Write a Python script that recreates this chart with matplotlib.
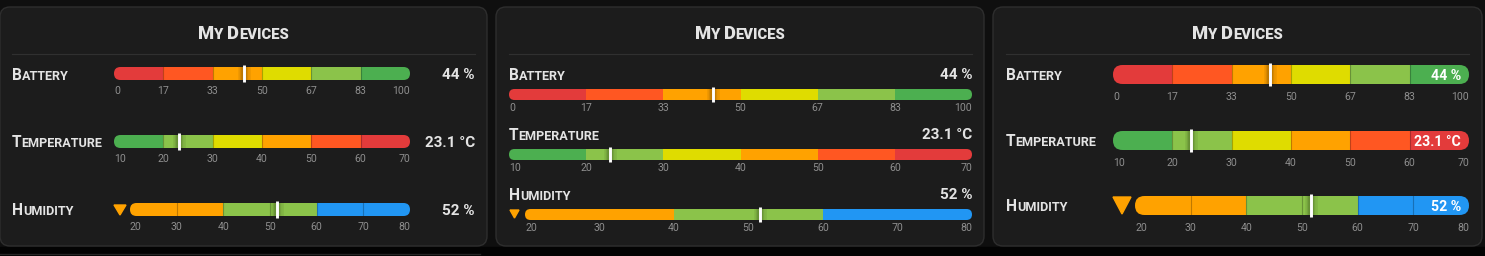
import numpy as np
import matplotlib
matplotlib.use('Agg')
import matplotlib.pyplot as plt
from matplotlib.patches import FancyBboxPatch, Rectangle, Polygon

# data
row_names = ['Battery', 'Temperature', 'Humidity']
row_values = [44, 23.1, 51.6]
row_decimals = [0, 1, 0]
row_units = ['%', '°C', '%']

battery_edges = [0, 16.67, 33.33, 50, 66.67, 83.33, 100]
temperature_edges = [10, 20, 30, 40, 50, 60, 70]
humidity_edges = [20, 30, 40, 50, 60, 70, 80]

RED, ORANGERED, ORANGE = '#e33b3b', '#ff5722', '#ffa200'
YELLOW, LIGHTGREEN, GREEN, BLUE = '#dfdc00', '#8bc34a', '#4caf50', '#2196f3'
battery_colors = [RED, ORANGERED, ORANGE, YELLOW, LIGHTGREEN, GREEN]
temperature_colors = [GREEN, LIGHTGREEN, YELLOW, ORANGE, ORANGERED, RED]
humidity_colors = [ORANGE, ORANGE, LIGHTGREEN, LIGHTGREEN, BLUE, BLUE]

row_edges = [battery_edges, temperature_edges, humidity_edges]
row_colors = [battery_colors, temperature_colors, humidity_colors]
title = 'My Devices'

W, H = 1485, 256
plt.rcParams['font.family'] = ['Roboto', 'DejaVu Sans']
fig = plt.figure(figsize=(W / 100, H / 100), dpi=100)
fig.patch.set_facecolor('#0f0f0f')

ov = fig.add_axes([0, 0, 1, 1])
ov.set_xlim(0, W)
ov.set_ylim(H, 0)
ov.axis('off')
renderer = fig.canvas.get_renderer()

TXT = '#e4e4e4'
TICK = '#8e8e8e'


def text_width(s, size, weight):
    t = ov.text(0, 0, s, fontsize=size, fontweight=weight)
    w = t.get_window_extent(renderer).width
    t.remove()
    return w


def baseline(yc, size):
    # put cap height centred on yc
    return yc + 0.711 * size * 100 / 72 / 2


def put(x, yc, s, size, ha='left', weight='bold', color=TXT):
    ov.text(x, baseline(yc, size), s, fontsize=size, fontweight=weight,
            color=color, ha=ha, va='baseline', zorder=5)


def small_caps(x, yc, s, big, small, ha='left', weight='bold', color=TXT):
    runs = []
    for ch in s:
        kind = 'sp' if ch == ' ' else ch.isupper()
        if runs and runs[-1][1] == kind:
            runs[-1][0] += ch
        else:
            runs.append([ch, kind])
    parts = []
    for txt, kind in runs:
        size = big if kind is True else small
        if kind == 'sp':
            w = (text_width('x x', size, weight) - text_width('xx', size, weight)) * len(txt)
        else:
            w = text_width(txt.upper(), size, weight)
        parts.append((txt.upper(), size, w, kind))
    total = sum(p[2] for p in parts)
    if ha == 'center':
        x = x - total / 2
    elif ha == 'right':
        x = x - total
    y = baseline(yc, big)
    for txt, size, w, kind in parts:
        if kind != 'sp':
            ov.text(x, y, txt, fontsize=size, fontweight=weight, color=color,
                    ha='left', va='baseline', zorder=5)
        x += w


def bar(x0, x1, yc, h, edges, colors, value, pad, dividers):
    ax = fig.add_axes([x0 / W, 1 - (yc + h / 2) / H, (x1 - x0) / W, h / H])
    ax.set_xlim(edges[0], edges[-1])
    ax.set_ylim(0, 1)
    clip = FancyBboxPatch((x0, yc - h / 2), x1 - x0, h,
                          boxstyle=f'round,pad=0,rounding_size={h / 2}',
                          transform=ov.transData, fc='none', ec='none')
    bars = ax.barh(0.5, np.diff(edges), left=edges[:-1], height=1,
                   color=colors, linewidth=0)
    for b in bars:
        b.set_clip_path(clip)
    if dividers:
        for e in edges[1:-1]:
            l = ax.axvline(e, color='black', alpha=0.25, lw=0.8)
            l.set_clip_path(clip)
    for lw, a in [(9, 0.07), (6, 0.09), (4, 0.12)]:
        l = ax.axvline(value, color='black', alpha=a, lw=lw)
        l.set_clip_path(clip)
    ext = 2 / h
    ax.axvline(value, ymin=-ext, ymax=1 + ext, color='white', lw=2.1,
               clip_on=False, solid_capstyle='butt')
    ax.set_xticks(edges, [f'{round(e)}' for e in edges])
    ax.set_yticks([])
    ax.tick_params(length=0, pad=pad, labelsize=7.6, labelcolor=TICK)
    labs = ax.get_xticklabels()
    labs[0].set_ha('left')
    labs[-1].set_ha('right')
    ax.set_facecolor('none')
    for s in ax.spines.values():
        s.set_visible(False)
    return ax


# layout of the three cards (pixels)
cards = [
    dict(x0=0, x1=487, lx=12, bx0=114, bx1=410, hx0=130, vx=475,
         ly=[74, 141.5, 209.5], vy=[74, 141.5, 209.5], by=[73.5, 141.5, 209.5],
         h=13, tri=(120, 210, 12, 10), pad=4.2, div=True, inside=False),
    dict(x0=496, x1=984, lx=509, bx0=509, bx1=972, hx0=525, vx=972,
         ly=[74, 134, 194], vy=[74, 134, 194], by=[94.5, 154.5, 214.5],
         h=11, tri=(514.5, 214, 9, 8), pad=2.1, div=False, inside=False),
    dict(x0=993, x1=1482, lx=1006, bx0=1113, bx1=1469, hx0=1135, vx=1461,
         ly=[74, 140, 205], vy=[74.5, 140.5, 205.5], by=[74.5, 140.5, 205.5],
         h=19, tri=(1122, 205.5, 18, 17), pad=5.7, div=True, inside=True),
]

ov.add_patch(Rectangle((0, 247), W, 9, color='#030303', zorder=0))
ov.plot([0, 480], [253.5, 253.5], color='#262626', lw=1, zorder=0.5)

for c in cards:
    ov.add_patch(FancyBboxPatch((c['x0'], 7), c['x1'] - c['x0'], 239,
                                boxstyle='round,pad=0,rounding_size=10',
                                fc='#1c1c1c', ec='#2e2e2e', lw=1, zorder=1))
    small_caps((c['x0'] + c['x1']) / 2, 32, title, 13.2, 10.6, ha='center',
               weight='heavy')
    ov.plot([c['lx'], c['vx'] if not c['inside'] else c['bx1']], [53.5, 53.5],
            color='#303030', lw=0.8, zorder=2)
    for i, name in enumerate(row_names):
        small_caps(c['lx'], c['ly'][i], name, 11.2, 9.1, weight='bold')
        bx0 = c['hx0'] if name == 'Humidity' else c['bx0']
        ax = bar(bx0, c['bx1'], c['by'][i], c['h'], row_edges[i], row_colors[i],
                 row_values[i], c['pad'], c['div'])
        label = f'{row_values[i]:.{row_decimals[i]}f} {row_units[i]}'
        if c['inside']:
            ax.text(1 - 8 / (c['bx1'] - bx0), 0.5, label, transform=ax.transAxes,
                    fontsize=10.2, fontweight='bold', color='white', ha='right',
                    va='center_baseline', zorder=5)
        else:
            put(c['vx'], c['vy'][i], label, 11, ha='right')
    tx, ty, tw, th = c['tri']
    ov.add_patch(Polygon([(tx - tw / 2, ty - th / 2), (tx + tw / 2, ty - th / 2),
                          (tx, ty + th / 2)], closed=True, color=ORANGE, zorder=3))

fig.savefig('out.png', dpi=100, facecolor=fig.get_facecolor())
